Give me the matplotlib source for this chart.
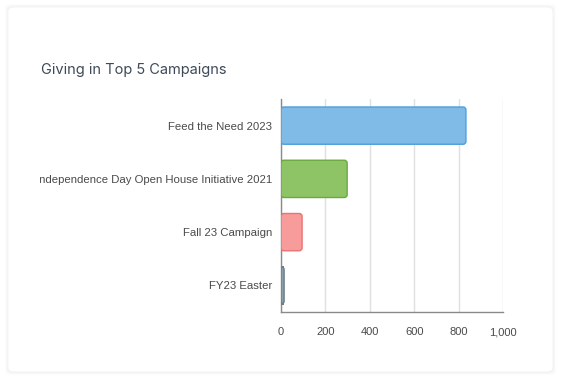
import matplotlib.pyplot as plt
from matplotlib.patches import FancyBboxPatch
from matplotlib.transforms import Bbox, TransformedBbox
from matplotlib.ticker import FuncFormatter

campaigns = ["Feed the Need 2023", "Independence Day Open House Initiative 2021",
             "Fall 23 Campaign", "FY23 Easter"]
giving = [833, 298, 95, 14]
fill_colors = ["#80bbe8", "#8fc466", "#f79b9b", "#8a9dab"]
edge_colors = ["#4d9fdc", "#6aa93e", "#ea7373", "#6c7f8c"]

plt.rcParams['font.family'] = ['Liberation Sans', 'DejaVu Sans']

fig = plt.figure(figsize=(5.62, 3.8), dpi=100)
fig.patch.set_facecolor("white")

# card with soft shadow
W, H = 562, 380
for i, a in enumerate([0.010, 0.014, 0.018]):
    off = 3 - i
    shadow = FancyBboxPatch((8 / W - off / W, 1 - 372 / H - off / H),
                            545 / W + 2 * off / W, 365 / H + 2 * off / H,
                            boxstyle="round,pad=0,rounding_size=0.012",
                            transform=fig.transFigure, facecolor="black",
                            edgecolor="none", alpha=a, zorder=-3)
    fig.patches.append(shadow)
card = FancyBboxPatch((8 / W, 1 - 372 / H), 545 / W, 365 / H,
                      boxstyle="round,pad=0,rounding_size=0.012",
                      transform=fig.transFigure, facecolor="white",
                      edgecolor="#f3f3f3", linewidth=0.6, zorder=-2)
fig.patches.append(card)

fig.text(41 / W, 1 - 70 / H, "Giving in Top 5 Campaigns", fontsize=10.5,
         color="#3e4a59", va="center", ha="left",
         family=["Inter", "DejaVu Sans"])

ax = fig.add_axes([281 / W, 1 - 312 / H, 222 / W, 213 / H])
ax.set_facecolor("none")
ypos = list(range(len(campaigns)))
bars = ax.barh(ypos, giving, height=0.7)

# swap the plain bars for rounded ones of the same size
for bar, fc, ec in zip(bars, fill_colors, edge_colors):
    x, y = bar.get_x(), bar.get_y()
    w, h = bar.get_width(), bar.get_height()
    bar.set_visible(False)
    rb = FancyBboxPatch((x, y), w, h,
                        boxstyle="round,pad=0,rounding_size=13",
                        mutation_aspect=0.0042,
                        facecolor=fc, edgecolor=ec, linewidth=1, zorder=3)
    ax.add_patch(rb)

ax.set_xlim(0, 1000)
ax.set_ylim(3.5, -0.5)
ax.set_xticks([0, 200, 400, 600, 800, 1000])
ax.xaxis.set_major_formatter(FuncFormatter(lambda v, p: f"{int(v):,}"))
ax.set_yticks(ypos)
ax.set_yticklabels(campaigns)
ax.grid(axis="x", color="#e0e0e0", linewidth=1, zorder=0)
ax.set_axisbelow(True)
for s in ["top", "right"]:
    ax.spines[s].set_visible(False)
for s in ["left", "bottom"]:
    ax.spines[s].set_color("#8a8a8a")
    ax.spines[s].set_linewidth(1)
ax.tick_params(axis="both", length=0, labelsize=8, colors="#4a4a4a")
ax.tick_params(axis="y", pad=6.5, labelsize=8.2)
ax.tick_params(axis="x", pad=11)

# long labels get cut at the card padding
clip_box = TransformedBbox(Bbox([[40 / W, 0], [1, 1]]), fig.transFigure)
for lbl in ax.get_yticklabels():
    lbl.set_clip_on(True)
    lbl.set_clip_box(clip_box)

fig.savefig("out.png", dpi=100)
